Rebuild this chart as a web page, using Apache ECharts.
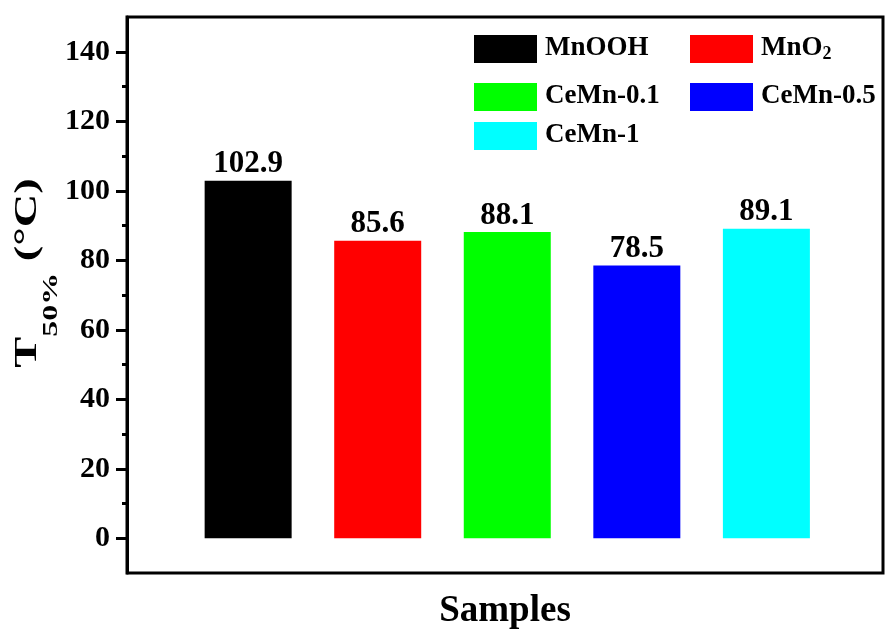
<!DOCTYPE html>
<html>
<head>
<meta charset="utf-8">
<script src="https://cdn.jsdelivr.net/npm/echarts@6/dist/echarts.min.js"></script>
<style>
  html, body { margin: 0; padding: 0; background: #fff; }
  #chart { width: 885px; height: 635px; }
</style>
</head>
<body>
<div id="chart"></div>
<script>
// data
var samples = ['MnOOH', 'MnO2', 'CeMn-0.1', 'CeMn-0.5', 'CeMn-1'];
var positions = [1, 2, 3, 4, 5];
var t50 = [102.9, 85.6, 88.1, 78.5, 89.1];
var colors = ['#000000', '#ff0000', '#00ff00', '#0000ff', '#00ffff'];
var majorTicks = [0, 20, 40, 60, 80, 100, 120, 140];
var minorTicks = [10, 30, 50, 70, 90, 110, 130];
// legend placement (two columns, three rows)
var legendLeft = [474, 690, 474, 690, 474];
var legendTop = [35, 35, 83, 83, 122];

var serif = "'Liberation Serif', 'Times New Roman', serif";
var chart = echarts.init(document.getElementById('chart'));

var series = samples.map(function (name, i) {
  return {
    name: name,
    type: 'bar',
    barWidth: 87,
    barGap: '-100%',
    itemStyle: { color: colors[i] },
    label: {
      show: true,
      position: 'top',
      distance: 1,
      fontFamily: serif,
      fontWeight: 'bold',
      fontSize: 31,
      color: '#000',
      formatter: function (p) { return p.value[1].toFixed(1); }
    },
    data: [[positions[i], t50[i]]]
  };
});

var legends = samples.map(function (name, i) {
  return {
    data: [name],
    left: legendLeft[i],
    top: legendTop[i],
    padding: 0,
    icon: 'rect',
    itemWidth: 63,
    itemHeight: 28,
    textStyle: {
      color: '#000',
      padding: [0, 0, 0, 3],
      rich: {
        n: { fontFamily: serif, fontWeight: 'bold', fontSize: 27, lineHeight: 28, verticalAlign: 'top', color: '#000' },
        s: { fontFamily: serif, fontWeight: 'bold', fontSize: 18, lineHeight: 8, verticalAlign: 'bottom', color: '#000' }
      }
    },
    formatter: function (n) {
      return n === 'MnO2' ? '{n|MnO}{s|2}' : '{n|' + n + '}';
    }
  };
});

var option = {
  animation: false,
  backgroundColor: '#fff',
  grid: {
    left: 127, right: 2, top: 17, bottom: 62,
    show: true, borderColor: '#000', borderWidth: 3
  },
  legend: legends,
  // y axis title, T with subscript 50%
  graphic: [{
    type: 'text',
    x: 37,
    y: 273,
    rotation: Math.PI / 2,
    scaleX: 1.45,
    style: {
      text: '{t|T}{s|50%}{t| (°C)}',
      align: 'center',
      verticalAlign: 'middle',
      fill: '#000',
      rich: {
        t: { fontFamily: serif, fontWeight: 'bold', fontSize: 32, lineHeight: 32, verticalAlign: 'top', fill: '#000' },
        s: { fontFamily: serif, fontWeight: 'bold', fontSize: 22, lineHeight: 51, verticalAlign: 'bottom', fill: '#000' }
      }
    }
  }],
  xAxis: {
    type: 'value',
    min: 0.065,
    max: 5.9,
    name: 'Samples',
    nameLocation: 'middle',
    nameGap: 20,
    nameTextStyle: { fontFamily: serif, fontWeight: 'bold', fontSize: 37, color: '#000' },
    axisLine: { show: false },
    axisTick: { show: false },
    axisLabel: { show: false },
    splitLine: { show: false }
  },
  yAxis: [{
    type: 'value',
    min: -10,
    max: 150,
    interval: 10,
    axisLine: { show: true, lineStyle: { color: '#000', width: 3 } },
    axisTick: { show: true, customValues: majorTicks, length: 11, lineStyle: { color: '#000', width: 3 } },
    axisLabel: {
      customValues: majorTicks,
      margin: 17,
      fontFamily: serif,
      fontWeight: 'bold',
      fontSize: 30,
      color: '#000'
    },
    splitLine: { show: false }
  }, {
    type: 'value',
    min: -10,
    max: 150,
    interval: 10,
    position: 'left',
    axisLine: { show: false },
    axisTick: { show: true, customValues: minorTicks, length: 5, lineStyle: { color: '#000', width: 3 } },
    axisLabel: { show: false },
    splitLine: { show: false }
  }],
  series: series
};

chart.setOption(option);
</script>
</body>
</html>
